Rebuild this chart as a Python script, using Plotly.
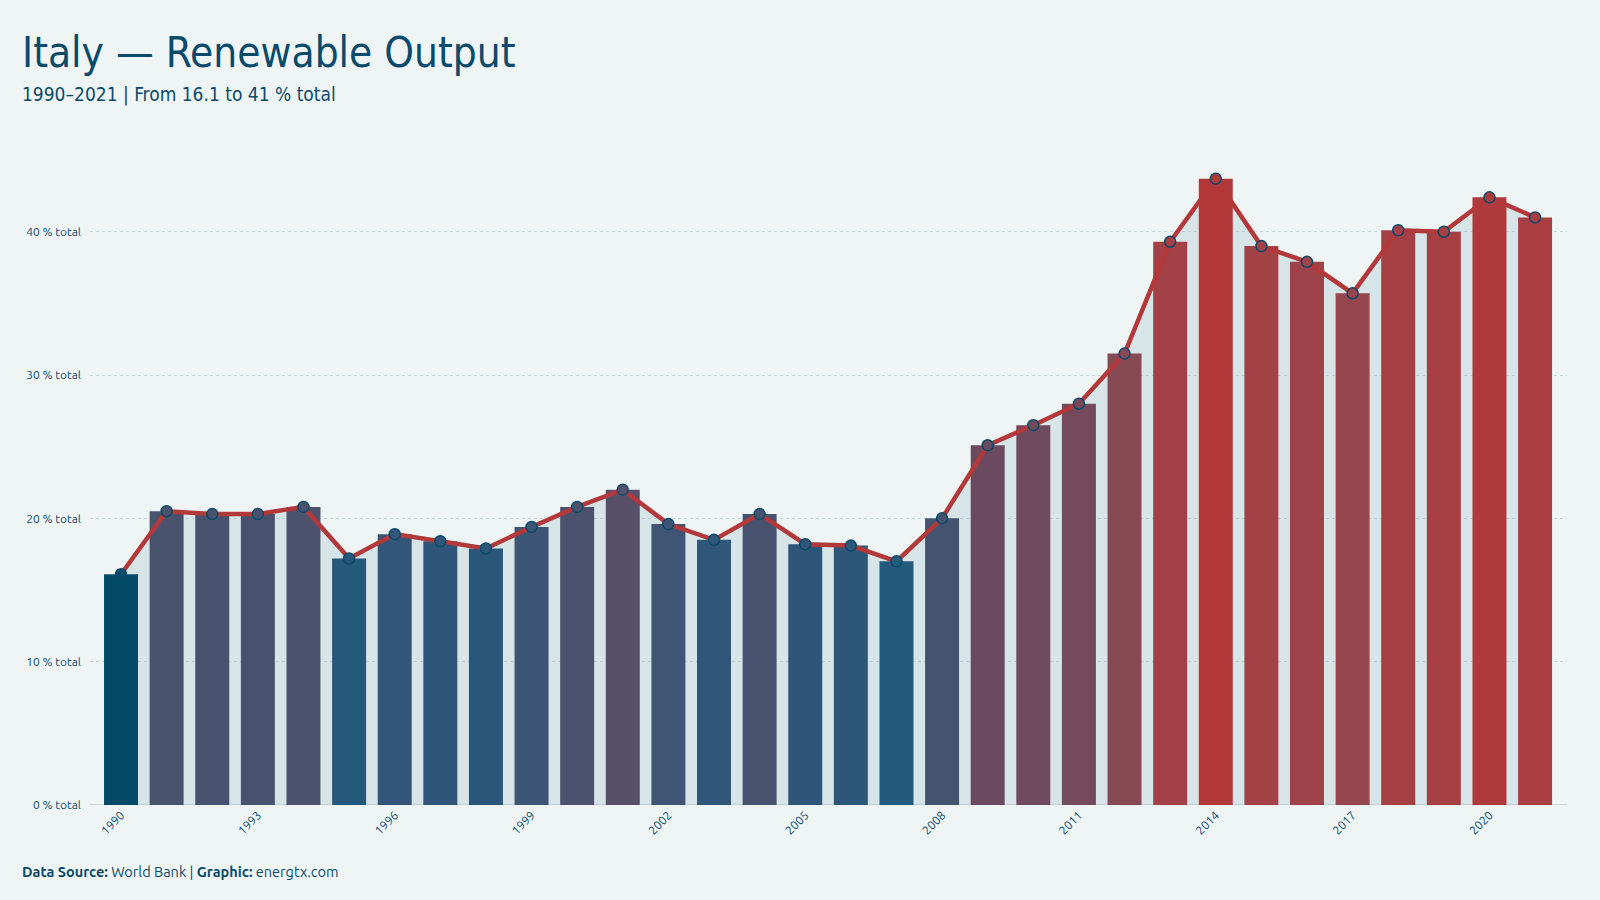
import plotly.graph_objects as go

years = list(range(1990, 2022))
values = [16.1, 20.5, 20.3, 20.3, 20.8, 17.2, 18.9, 18.4, 17.9, 19.4,
          20.8, 22.0, 19.6, 18.5, 20.3, 18.2, 18.1, 17.0, 20.0, 25.1,
          26.5, 28.0, 31.5, 39.3, 43.7, 39.0, 37.9, 35.7, 40.1, 40.0,
          42.4, 41.0]
tick_years = list(range(1990, 2022, 3))
y_ticks = [0, 10, 20, 30, 40]
y_tick_text = [f"{v} % total" for v in y_ticks]

BG = "#eff5f5"
INK = "#0b4a6b"
RED = "#b3383a"

vmin, vmax = min(values), max(values)
def stop(v):
    return (v - vmin) / (vmax - vmin)

colorscale = [
    [0.0, "#044b6a"],
    [stop(17.0), "#245a7c"],
    [stop(17.9), "#2a5779"],
    [stop(18.9), "#34557a"],
    [stop(19.4), "#3d5574"],
    [stop(20.3), "#47536e"],
    [stop(22.0), "#58506a"],
    [stop(25.0), "#6b4a60"],
    [stop(28.0), "#754b5b"],
    [stop(31.5), "#874a55"],
    [stop(35.7), "#96474e"],
    [stop(39.3), "#a34045"],
    [1.0, "#b2383a"],
]

xr = [1990 - 0.68, 2021 + 0.70]
yr = [0, 46.4]

fig = go.Figure()

# area under the line (base subplot, sits below the bars)
fig.add_trace(go.Scatter(
    x=years, y=values, mode="none", fill="tozeroy",
    fillcolor="rgba(160,185,200,0.29)", hoverinfo="skip", showlegend=False,
    xaxis="x", yaxis="y",
))

fig.add_trace(go.Bar(
    x=years, y=values,
    marker=dict(color=values, colorscale=colorscale, cmin=vmin, cmax=vmax,
                line=dict(width=0)),
    showlegend=False, xaxis="x2", yaxis="y2",
))

fig.add_trace(go.Scatter(
    x=years, y=values, mode="lines+markers",
    line=dict(color=RED, width=4.5),
    marker=dict(size=11, color=values, colorscale=colorscale, cmin=vmin, cmax=vmax,
                line=dict(color=INK, width=1.5)),
    showlegend=False, xaxis="x2", yaxis="y2",
))

tickfont = dict(family="Ubuntu, Noto Sans, DejaVu Sans, sans-serif", size=12, color=INK)
condensed = "Ubuntu Condensed, Liberation Sans Narrow, DejaVu Sans Condensed, sans-serif"

fig.update_layout(
    width=1600, height=900,
    paper_bgcolor=BG, plot_bgcolor=BG,
    margin=dict(l=90, r=33, t=140, b=95),
    bargap=0.255,
    xaxis=dict(range=xr, tickvals=tick_years, ticktext=[str(y) for y in tick_years],
               tickangle=-45, tickfont=tickfont, showgrid=False, zeroline=False,
               showline=False, ticks=""),
    yaxis=dict(range=yr, tickvals=y_ticks, ticktext=y_tick_text, tickfont=tickfont,
               showgrid=True, gridcolor="#c8d7dc", gridwidth=1.2, griddash="dot",
               zeroline=False, showline=False, ticks="", ticklabelstandoff=8),
    xaxis2=dict(range=xr, overlaying="x", visible=False),
    yaxis2=dict(range=yr, overlaying="y", visible=False),
    shapes=[dict(type="line", xref="paper", yref="y", x0=0, x1=1, y0=0, y1=0,
                 line=dict(color="#cdd7da", width=2), layer="below")],
    annotations=[
        dict(text="Italy — Renewable Output", xref="paper", yref="paper",
             x=(20 - 90) / 1477, y=(805 - 52) / 665, xanchor="left", yanchor="middle",
             showarrow=False,
             font=dict(family=condensed, size=42, color=INK)),
        dict(text="1990–2021 | From 16.1 to 41 % total", xref="paper", yref="paper",
             x=(20 - 90) / 1477, y=(805 - 94) / 665, xanchor="left", yanchor="middle",
             showarrow=False,
             font=dict(family=condensed, size=19, color=INK)),
        dict(text="<b>Data Source:</b> World Bank | <b>Graphic:</b> energtx.com",
             xref="paper", yref="paper",
             x=(20 - 90) / 1477, y=(805 - 871) / 665, xanchor="left", yanchor="middle",
             showarrow=False,
             font=dict(family="Ubuntu, Noto Sans, DejaVu Sans, sans-serif", size=14.5, color=INK)),
    ],
)

fig.write_html("out.html")
